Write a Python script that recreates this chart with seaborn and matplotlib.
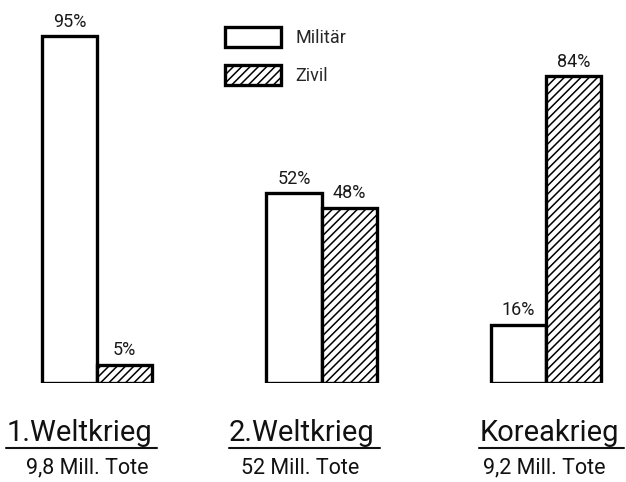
import matplotlib
matplotlib.use("Agg")
import matplotlib.pyplot as plt
import seaborn as sns
import pandas as pd

wars = ["1.Weltkrieg", "2.Weltkrieg", "Koreakrieg"]
totals = ["9,8 Mill. Tote", "52 Mill. Tote", "9,2 Mill. Tote"]
groups = ["Militär", "Zivil"]
militaer = [95, 52, 16]
zivil = [5, 48, 84]

df = pd.DataFrame({
    "Krieg": wars * 2,
    "Gruppe": [groups[0]] * 3 + [groups[1]] * 3,
    "Anteil": militaer + zivil,
})

sns.set_theme(style="white")
plt.rcParams["font.family"] = ["Roboto", "DejaVu Sans"]
plt.rcParams["hatch.linewidth"] = 1.1
plt.rcParams["hatch.color"] = "black"

fig = plt.figure(figsize=(6.26, 4.82), dpi=100)
ax = fig.add_axes([0, 99 / 482, 1, 383 / 482])

sns.barplot(data=df, x="Krieg", y="Anteil", hue="Gruppe", order=wars,
            hue_order=groups, palette=["white", "white"], width=0.49,
            edgecolor="black", linewidth=2.4, ax=ax, legend=True)

for bar in ax.containers[1]:
    bar.set_hatch("////")

for c in ax.containers:
    ax.bar_label(c, labels=[f"{v:g}%" for v in c.datavalues], padding=4,
                 fontsize=13, color="#1a1a1a")

ax.set_xlim(-97 / 224.5, (626 - 97) / 224.5)
ax.set_ylim(0, 383 / 3.65)
ax.axis("off")

leg = ax.legend(loc="upper left", bbox_to_anchor=(218 / 626, 1 - 20 / 383),
                frameon=False, fontsize=13, handlelength=3.1, handleheight=1.3,
                labelspacing=1.0, handletextpad=0.8, borderaxespad=0)
for i, h in enumerate(leg.legend_handles):
    h.set_edgecolor("black")
    h.set_linewidth(2.4)
    if i == 1:
        h.set_hatch("////")

# label placement (pixels): title centre x, subtitle centre x
title_x = [79, 302, 549]
sub_x = [87, 300, 544]
fig.canvas.draw()
for tx, sx, w, t in zip(title_x, sub_x, wars, totals):
    txt = fig.text(tx / 626, 1 - 433 / 482, w, ha="center", va="center",
                   fontsize=21, color="#111111")
    fig.text(sx / 626, 1 - 468 / 482, t, ha="center", va="center",
             fontsize=15.5, color="#111111")
    fig.canvas.draw()
    bb = txt.get_window_extent()
    x0, x1 = bb.x0 / 626, bb.x1 / 626 + 5 / 626
    fig.add_artist(plt.Line2D([x0, x1], [1 - 448 / 482] * 2, color="#111111",
                              lw=1.5, transform=fig.transFigure))

fig.savefig("out.png", dpi=100, facecolor="white")
